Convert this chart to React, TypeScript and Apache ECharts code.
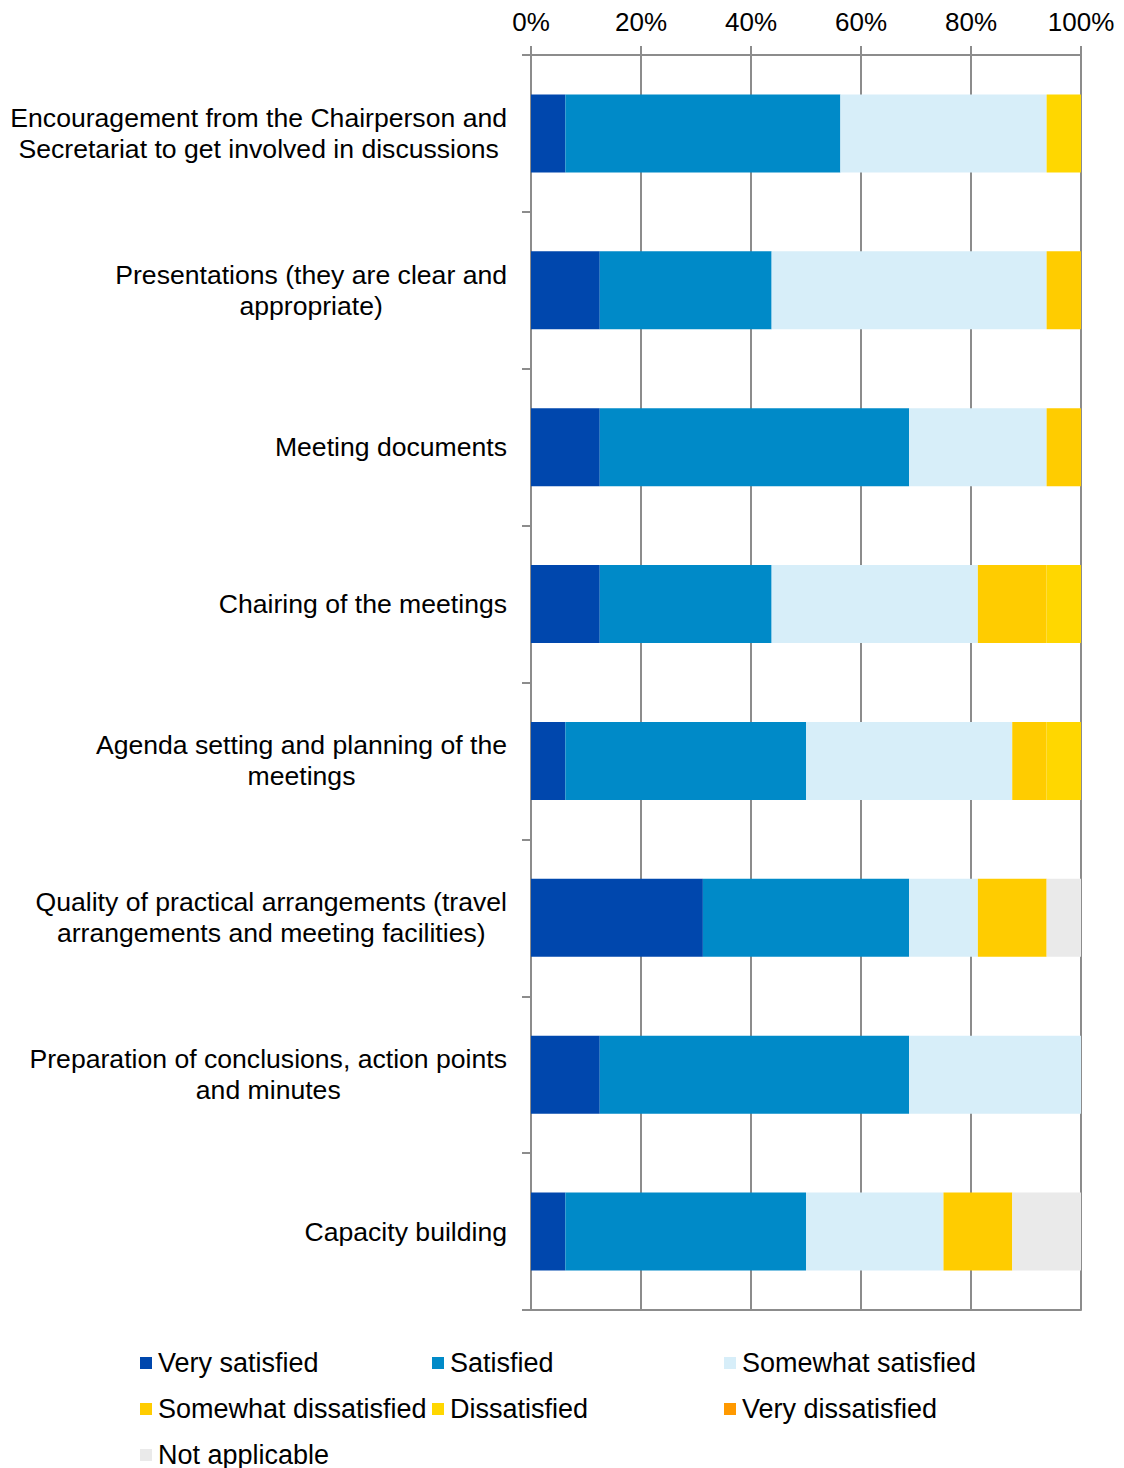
import React, { useEffect, useRef } from "react";
import * as echarts from "echarts";

const categories = [
  "Encouragement from the Chairperson and\nSecretariat to get involved in discussions",
  "Presentations (they are clear and\nappropriate)",
  "Meeting documents",
  "Chairing of the meetings",
  "Agenda setting and planning of the\nmeetings",
  "Quality of practical arrangements (travel\narrangements and meeting facilities)",
  "Preparation of conclusions, action points\nand minutes",
  "Capacity building",
];

const seriesNames = [
  "Very satisfied",
  "Satisfied",
  "Somewhat satisfied",
  "Somewhat dissatisfied",
  "Dissatisfied",
  "Very dissatisfied",
  "Not applicable",
];

const verySatisfied = [6.25, 12.5, 12.5, 12.5, 6.25, 31.25, 12.5, 6.25];
const satisfied = [50, 31.25, 56.25, 31.25, 43.75, 37.5, 56.25, 43.75];
const somewhatSatisfied = [37.5, 50, 25, 37.5, 37.5, 12.5, 31.25, 25];
const somewhatDissatisfied = [0, 6.25, 6.25, 12.5, 6.25, 12.5, 0, 12.5];
const dissatisfied = [6.25, 0, 0, 6.25, 6.25, 0, 0, 0];
const veryDissatisfied = [0, 0, 0, 0, 0, 0, 0, 0];
const notApplicable = [0, 0, 0, 0, 0, 6.25, 0, 12.5];

const xTicks = [0, 20, 40, 60, 80, 100];

const colors = ["#0047AD", "#008AC8", "#D7EEF9", "#FFCC00", "#FFD700", "#FF9900", "#EAEAEA"];

const FONT = "'Liberation Sans', Arial, sans-serif";

export default function App() {
  const ref = useRef<HTMLDivElement>(null);
  useEffect(() => {
    document.body.style.margin = "0";
    if (!ref.current) return;
    const chart = echarts.init(ref.current, null, { renderer: "svg" });
    const seriesData = [
      verySatisfied,
      satisfied,
      somewhatSatisfied,
      somewhatDissatisfied,
      dissatisfied,
      veryDissatisfied,
      notApplicable,
    ];
    chart.setOption({
      animation: false,
      textStyle: { fontFamily: FONT },
      color: colors,
      grid: { left: 531, right: 43, top: 55, bottom: 158, containLabel: false },
      xAxis: [
        {
          type: "value",
          position: "top",
          min: xTicks[0],
          max: xTicks[xTicks.length - 1],
          interval: 20,
          axisLine: { show: true, lineStyle: { color: "#8c8c8c", width: 2 } },
          axisTick: { show: true, length: 9, lineStyle: { color: "#8c8c8c", width: 2 } },
          axisLabel: {
            formatter: "{value}%",
            color: "#000",
            fontSize: 26,
            fontFamily: FONT,
            margin: 20,
          },
          splitLine: { show: true, lineStyle: { color: "#8c8c8c", width: 2 } },
        },
        {
          type: "value",
          position: "bottom",
          min: 0,
          max: 100,
          axisLine: { show: true, lineStyle: { color: "#8c8c8c", width: 2 } },
          axisTick: { show: false },
          axisLabel: { show: false },
          splitLine: { show: false },
        },
      ],
      yAxis: {
        type: "category",
        inverse: true,
        data: categories,
        axisLine: { show: true, lineStyle: { color: "#8c8c8c", width: 2 } },
        axisTick: { show: true, length: 9, alignWithLabel: false, lineStyle: { color: "#8c8c8c", width: 2 } },
        axisLabel: {
          margin: 24,
          color: "#000",
          fontSize: 26.6,
          fontFamily: FONT,
          align: "right",
          lineHeight: 31,
          formatter: (v: string) =>
            v
              .split("\n")
              .map((l) => "{c|" + l + "}")
              .join("\n"),
          rich: {
            c: { align: "center", fontSize: 26.6, fontFamily: FONT, color: "#000", lineHeight: 31 },
          },
        },
      },
      legend: {
        show: true,
        left: 140,
        top: 1340,
        width: 900,
        padding: 0,
        itemGap: 0,
        itemWidth: 12,
        itemHeight: 12,
        icon: "rect",
        data: seriesNames,
        textStyle: {
          color: "#000",
          fontSize: 27,
          fontFamily: FONT,
          width: 274,
          lineHeight: 46,
          padding: [0, 0, 0, 1],
        },
      },
      series: seriesNames.map((name, i) => ({
        name,
        type: "bar",
        stack: "total",
        barWidth: 78,
        xAxisIndex: 0,
        data: seriesData[i],
        itemStyle: { color: colors[i] },
      })),
    });
    return () => chart.dispose();
  }, []);
  return <div ref={ref} style={{ width: 1124, height: 1468 }} />;
}
